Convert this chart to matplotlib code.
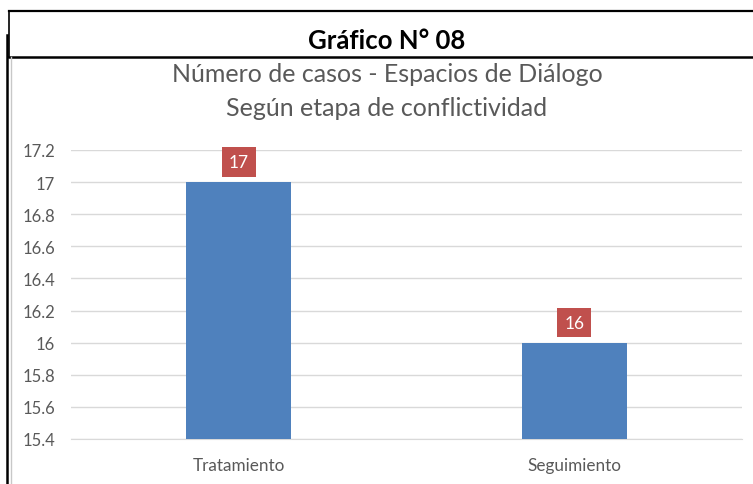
import matplotlib.pyplot as plt
from matplotlib.lines import Line2D

# Data
categories = ["Tratamiento", "Seguimiento"]
casos = [17, 16]
yticks = [15.4, 15.6, 15.8, 16, 16.2, 16.4, 16.6, 16.8, 17, 17.2]
ytick_labels = ["15.4", "15.6", "15.8", "16", "16.2", "16.4", "16.6", "16.8", "17", "17.2"]

plt.rcParams['font.family'] = ['Lato', 'DejaVu Sans']
gray = "#595959"

fig = plt.figure(figsize=(7.53, 4.85), dpi=100)
ax = fig.add_axes([71 / 753, 1 - 440 / 485, (742 - 71) / 753, (440 - 151) / 485])

x = range(len(categories))
ax.bar(x, casos, width=0.313, color="#4F81BD", zorder=3)
ax.set_xlim(-0.5, 1.5)
ax.set_ylim(15.4, 17.2)
ax.set_yticks(yticks)
ax.set_yticklabels(ytick_labels)
ax.set_xticks(list(x))
ax.set_xticklabels(categories)
ax.tick_params(axis='y', length=0, labelsize=12, colors=gray, pad=11.5)
ax.tick_params(axis='x', length=0, labelsize=12.3, colors=gray, pad=13)
ax.grid(axis='y', color="#d9d9d9", linewidth=1, zorder=0)
for s in ax.spines.values():
    s.set_visible(False)
ax.spines['bottom'].set_visible(True)
ax.spines['bottom'].set_color("#d9d9d9")

# value labels in red boxes
for xi, v in zip(x, casos):
    ax.annotate(str(v), (xi, v), xytext=(0, 14.5), textcoords="offset points",
                ha="center", va="center", color="white", fontsize=12.5,
                bbox=dict(boxstyle="square,pad=0.4", fc="#C0504D", ec="none"), zorder=4)

# titles
fig.text(0.514, 1 - 41 / 485, "Gráfico N° 08", ha="center", va="center",
         fontsize=18.5, fontweight="bold", color="black")
fig.text(0.514, 1 - 75 / 485, "Número de casos - Espacios de Diálogo", ha="center",
         va="center", fontsize=18, color=gray)
fig.text(0.514, 1 - 108 / 485, "Según etapa de conflictividad", ha="center",
         va="center", fontsize=18, color=gray)

# frame lines
fig.add_artist(Line2D([9 / 753, 1], [1 - 12 / 485] * 2, color="black", lw=1.6))
fig.add_artist(Line2D([9 / 753, 1], [1 - 58 / 485] * 2, color="black", lw=1.8))
fig.add_artist(Line2D([9 / 753] * 2, [1 - 12 / 485, 1 - 58 / 485], color="black", lw=1.2))
fig.add_artist(Line2D([7 / 753] * 2, [1 - 36 / 485, 0], color="black", lw=1.8))
fig.add_artist(Line2D([11 / 753] * 2, [1 - 58 / 485, 0], color="#c8c8c8", lw=1))

plt.savefig("out.png", dpi=100)
